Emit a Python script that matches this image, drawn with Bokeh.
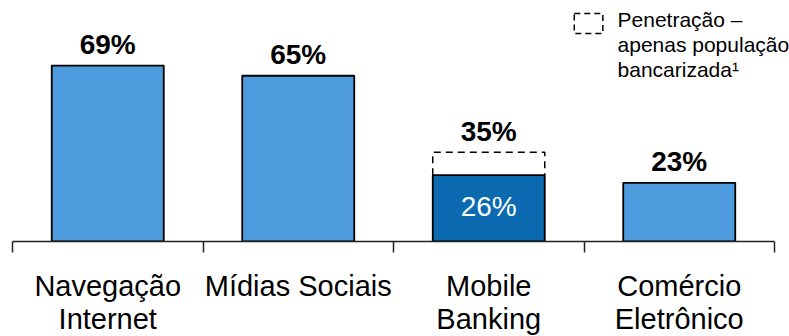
from bokeh.plotting import figure
from bokeh.models import FixedTicker, LinearAxis, Range1d, ColumnDataSource
from bokeh.core.properties import value
from bokeh.embed import file_html
from bokeh.resources import INLINE

# ---- data ----
categories = ["Navegação\nInternet", "Mídias Sociais", "Mobile\nBanking", "Comércio\nEletrônico"]
values = [69, 65, 26, 23]                 # penetration, total population (%)
banked_values = [None, None, 35, None]    # penetration, banked population only (%)
bar_colors = ["#4D9BDC", "#4D9BDC", "#0B6AB0", "#4D9BDC"]
legend_text = "Penetração –\napenas população\nbancarizada¹"

FONT = "Liberation Sans"

n = len(categories)
centers = [i + 0.5 for i in range(n)]
bar_w = 0.588
PX_PER_PCT = 2.55
label_gap = 21 / PX_PER_PCT   # bar top -> centre of value label

top_vals = [b if b is not None else v for v, b in zip(values, banked_values)]
top_labels = [f"{t}%" for t in top_vals]
label_y = [t + label_gap for t in top_vals]

p = figure(frame_width=789, frame_height=241,
           x_range=Range1d(-12 / 190.5, 777 / 190.5),
           y_range=Range1d(0, 241 / PX_PER_PCT),
           output_backend="svg", toolbar_location=None, min_border=0,
           x_axis_type=None, y_axis_type=None)
p.outline_line_color = None
p.xgrid.visible = False
p.ygrid.visible = False

src = ColumnDataSource(dict(x=centers, top=values, color=bar_colors,
                            ly=label_y, tlabel=top_labels))

p.vbar(x="x", top="top", bottom=0, width=bar_w, source=src,
       fill_color="color", line_color="black", line_width=1.8)

# dashed outline for banked-population penetration
for i, b in enumerate(banked_values):
    if b is None:
        continue
    l, r = centers[i] - bar_w / 2, centers[i] + bar_w / 2
    p.line(x=[l, l, r, r], y=[values[i], b, b, values[i]],
           line_color="black", line_width=1.5, line_dash="7 5")
    p.text(x=[centers[i]], y=[values[i] / 2 + 0.8], text=[f"{values[i]}%"],
           text_color="white", text_font=value(FONT), text_font_size="28px",
           text_align="center", text_baseline="middle")

p.text(x="x", y="ly", text="tlabel", source=src, text_color="black",
       text_font=value(FONT), text_font_size="28px", text_font_style="bold",
       text_align="center", text_baseline="middle")

# legend
p.rect(x=[3.024], y=[85.5], width=0.15, height=7.8, fill_color=None,
       line_color="black", line_width=1.5, line_dash="6 4")
p.text(x=[3.176], y=[91.4], text=[legend_text], text_color="black",
       text_font=value(FONT), text_font_size="21px", text_align="left",
       text_baseline="top", text_line_height=1.07)

axis = LinearAxis(
    ticker=FixedTicker(ticks=centers, minor_ticks=list(range(n + 1))),
    bounds=(0, n),
    major_label_overrides={c: lab for c, lab in zip(centers, categories)},
    major_tick_out=0, major_tick_in=0,
    minor_tick_out=11, minor_tick_in=0,
    major_label_standoff=17,
    major_label_text_font=FONT, major_label_text_font_size="29px",
    major_label_text_color="black", major_label_text_line_height=1.04,
    axis_line_color="#222222", axis_line_width=1.5,
    minor_tick_line_color="#222222", minor_tick_line_width=1.5,
)
p.add_layout(axis, "below")

open("out.html", "w").write(file_html(p, INLINE))
